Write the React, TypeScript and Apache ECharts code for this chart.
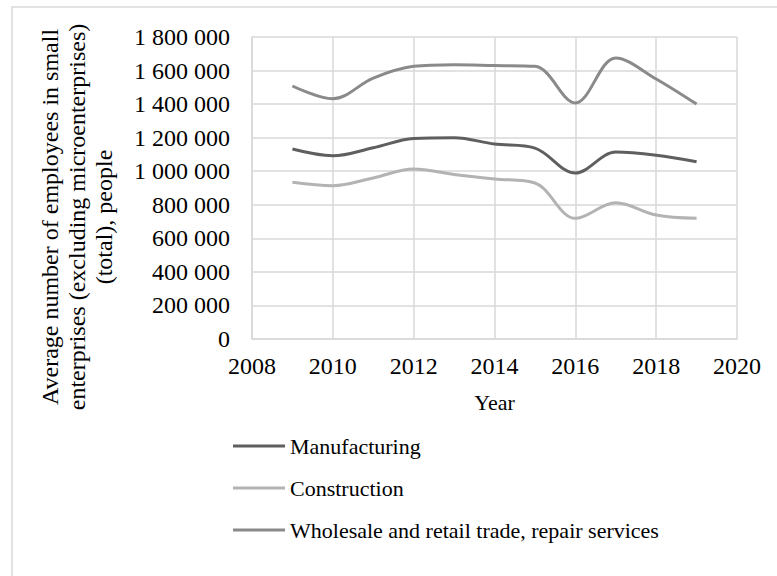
import React, { useEffect, useRef } from "react";
import * as echarts from "echarts";

const years = [2009, 2010, 2011, 2012, 2013, 2014, 2015, 2016, 2017, 2018, 2019];
const manufacturing = [1132000, 1092000, 1140000, 1195000, 1200000, 1162000, 1138000, 989000, 1114000, 1095000, 1057000];
const construction = [934000, 914000, 960000, 1013000, 981000, 954000, 930000, 719000, 812000, 739000, 719000];
const wholesale = [1508000, 1432000, 1555000, 1625000, 1635000, 1630000, 1625000, 1407000, 1675000, 1550000, 1400000];
const seriesNames = ["Manufacturing", "Construction", "Wholesale and retail trade, repair services"];
const seriesColors = ["#5f5f5f", "#b3b3b3", "#8a8a8a"];
const yTitleLines = [
  "Average number of employees in small",
  "enterprises (excluding microenterprises)",
  "(total), people",
];
const xTitle = "Year";

const FONT = "'Liberation Serif', 'Times New Roman', serif";

export default function App() {
  const ref = useRef<HTMLDivElement>(null);
  useEffect(() => {
    if (!ref.current) return;
    const chart = echarts.init(ref.current, null, { renderer: "svg" });
    const fmt = (v: number) => String(v).replace(/\B(?=(\d{3})+(?!\d))/g, " ");
    const data = [manufacturing, construction, wholesale];
    chart.setOption({
      animation: false,
      backgroundColor: "#ffffff",
      textStyle: { fontFamily: FONT },
      grid: { left: 252, top: 37, width: 485, height: 302, containLabel: false },
      xAxis: {
        type: "value",
        min: 2008,
        max: 2020,
        interval: 2,
        name: xTitle,
        nameLocation: "middle",
        nameGap: 52,
        nameTextStyle: { fontFamily: FONT, fontSize: 22, color: "#000" },
        axisLabel: { fontFamily: FONT, fontSize: 24, color: "#000", margin: 15, formatter: (v: number) => String(v) },
        axisLine: { show: true, lineStyle: { color: "#d9d9d9", width: 1.5 } },
        axisTick: { show: false },
        splitLine: { show: true, lineStyle: { color: "#d9d9d9", width: 1.5 } },
      },
      yAxis: {
        type: "value",
        min: 0,
        max: 1800000,
        interval: 200000,
        axisLabel: { fontFamily: FONT, fontSize: 24, color: "#000", margin: 22, formatter: fmt },
        axisLine: { show: true, lineStyle: { color: "#d9d9d9", width: 1.5 } },
        axisTick: { show: false },
        splitLine: { show: true, lineStyle: { color: "#d9d9d9", width: 1.5 } },
      },
      legend: {
        orient: "vertical",
        left: 233,
        top: 435,
        padding: 0,
        itemWidth: 52,
        itemHeight: 14,
        itemGap: 20,
        icon: "path://M0,6 L52,6 L52,9 L0,9 Z",
        textStyle: { fontFamily: FONT, fontSize: 22, color: "#000" },
        data: seriesNames,
      },
      graphic: [
        {
          type: "rect",
          shape: { x: 12, y: 7, width: 820, height: 620 },
          style: { fill: "none", stroke: "#d9d9d9", lineWidth: 1.5 },
          silent: true,
        },
        {
          type: "text",
          x: 77,
          y: 217,
          rotation: Math.PI / 2,
          style: {
            text: yTitleLines.join("\n"),
            fontFamily: FONT,
            fontSize: 24,
            lineHeight: 27,
            fill: "#000",
            textAlign: "center",
            textVerticalAlign: "middle",
          },
        },
      ],
      series: seriesNames.map((name, i) => ({
        name,
        type: "line",
        smooth: 0.35,
        showSymbol: false,
        symbol: "none",
        lineStyle: { color: seriesColors[i], width: 3 },
        itemStyle: { color: seriesColors[i] },
        data: years.map((y, j) => [y, data[i][j]]),
      })),
    });
    return () => chart.dispose();
  }, []);
  return <div ref={ref} style={{ position: "absolute", left: 0, top: 0, width: 777, height: 576 }} />;
}
